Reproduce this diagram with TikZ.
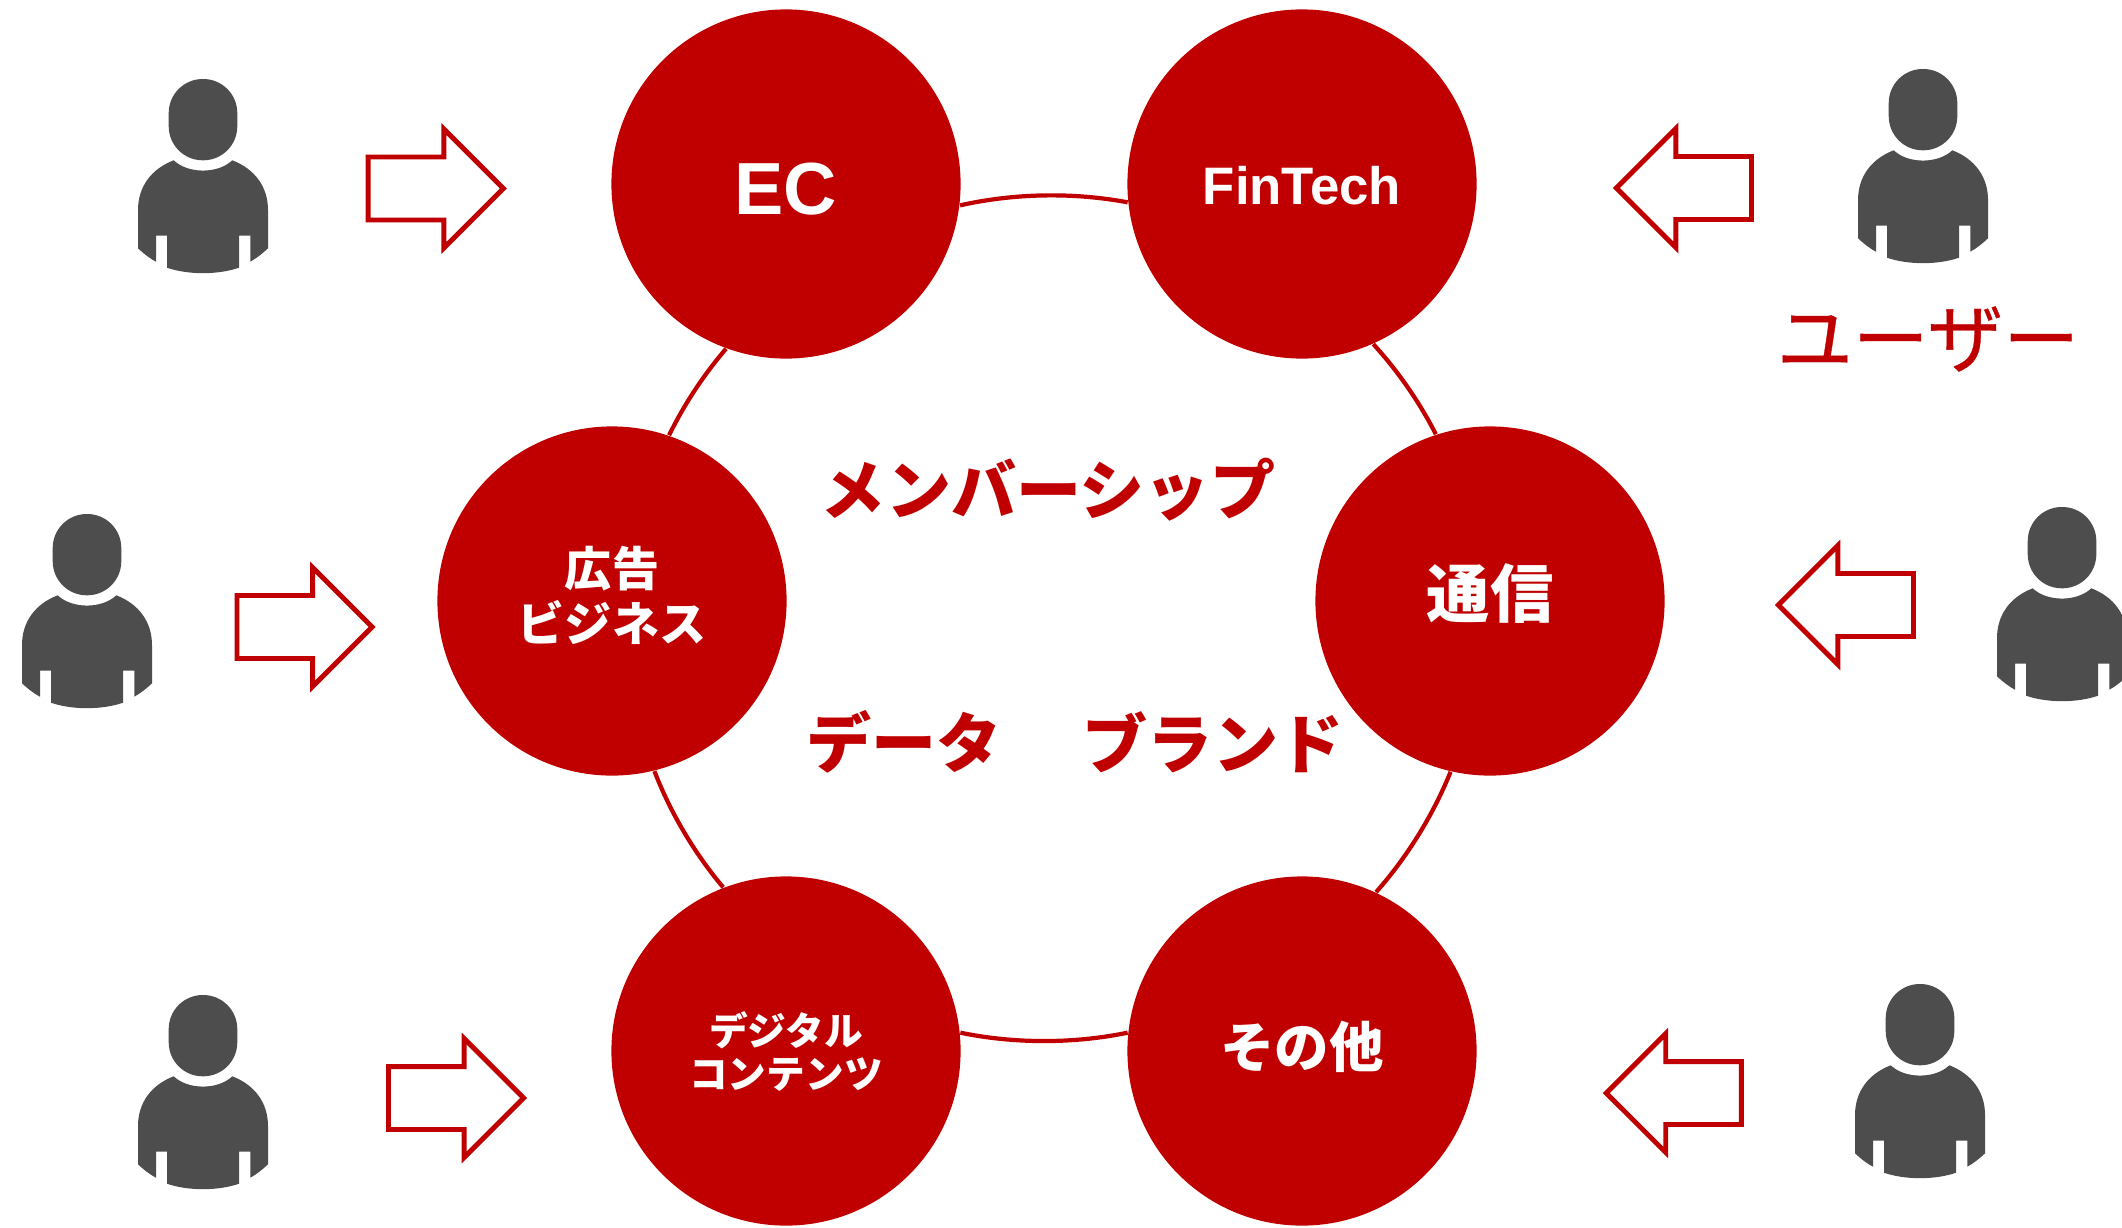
\documentclass[tikz,border=0pt]{standalone}
\usepackage{fontspec}
\setmainfont{Liberation Sans}
\newfontfamily\jpfont{Noto Sans CJK JP}
\newfontfamily\jpthick[FakeBold=0.5]{Noto Sans CJK JP}
\usetikzlibrary{shapes.arrows}

\definecolor{brandred}{HTML}{C00000}
\definecolor{persongray}{HTML}{4D4D4D}

\tikzset{
	member/.style={circle, fill=brandred, minimum size=3.49cm, inner sep=0pt, text=white, align=center},
	ringline/.style={draw=brandred, line width=1.2pt, looseness=0.85},
	flow/.style={draw=brandred, line width=1.4pt, single arrow, minimum width=1.14cm, minimum height=1.35cm,
		single arrow head extend=0.28cm, single arrow head indent=0pt, inner xsep=0pt, inner ysep=0.29cm, outer sep=0pt},
	flowin/.style={flow},
	flowout/.style={flow, shape border rotate=180},
	tag/.style={text=brandred, inner sep=0pt, font=\jpfont\bfseries\fontsize{18.5}{22}\selectfont},
	pics/person/.style={code={
		\fill[persongray, rounded corners=0.34cm] (-34.3,0) rectangle (34.3,81.3);
		\fill[persongray] (-29.3,81.3) .. controls (-15,95) and (15,95) .. (29.3,81.3)
			.. controls (52,90) and (65,108) .. (65,131) -- (65,169.3)
			.. controls (60,174) and (54,179) .. (47.3,182.7) -- (47.3,156.7) -- (36,156.7) -- (36,188.7)
			.. controls (15,196) and (-15,196) .. (-36,188.7) -- (-36,156.7) -- (-47,156.7) -- (-47,182.7)
			.. controls (-54,179) and (-60,174) .. (-65,169.3) -- (-65,131)
			.. controls (-65,108) and (-52,90) .. (-29.3,81.3) -- cycle;
	}}
}

\begin{document}
\begin{tikzpicture}[x=0.01cm, y=-0.01cm]
	\path[use as bounding box, clip] (0,0) rectangle (2122,1227);

	\node[member, text height=17.4pt, text depth=0pt, font=\bfseries\fontsize{21}{25}\selectfont] (ec) at (786,184) {EC};
	\node[member, text height=11.8pt, text depth=0pt, font=\bfseries\fontsize{15}{18}\selectfont] (fintech) at (1302,184) {FinTech};
	\node[member, text depth=6.2pt, font=\jpfont\bfseries\fontsize{18}{22}\selectfont] (telecom) at (1490,601) {通信};
	\node[member, text depth=3.8pt, font=\jpfont\bfseries\fontsize{15.5}{18}\selectfont] (others) at (1302,1051) {その他};
	\node[member, font=\jpfont\bfseries\fontsize{11}{12.2}\selectfont] (content) at (786,1051) {デジタル\\コンテンツ};
	\node[member, text depth=4.3pt, font=\jpfont\bfseries\fontsize{13.4}{15.7}\selectfont] (ads) at (612,601) {広告\\ビジネス};

	\draw[ringline] (ec.-7.3) to[bend left=11.6] (fintech.186.4);
	\draw[ringline] (fintech.-66) to[bend left=7.7] (telecom.108.7);
	\draw[ringline] (telecom.-103.4) to[bend left=9.7] (others.65);
	\draw[ringline] (others.174) to[bend left=11.6] (content.6.8);
	\draw[ringline] (content.111) to[bend left=9.5] (ads.-76.6);
	\draw[ringline] (ads.71.8) to[bend left=7.3] (ec.250);

	\node[tag] (membership) at (1048,490) {メンバーシップ};
	\node[tag] (data) at (904,742) {データ};
	\node[tag] (brand) at (1213,742) {ブランド};
	\node[text=brandred, inner sep=0pt, font=\jpthick\fontsize{21.6}{25}\selectfont] (user) at (1928,339) {ユーザー};

	\node[flowin] (arrowa) at (420,188.5) {};
	\node[flowin] (arrowb) at (288.8,627) {};
	\node[flowin] (arrowc) at (440.3,1098) {};
	\node[flowout] (arrowd) at (1699.7,188) {};
	\node[flowout] (arrowe) at (1861.7,605) {};
	\node[flowout] (arrowf) at (1689.5,1093) {};

	\pic (usera) at (203,79) {person};
	\pic (userb) at (87,514) {person};
	\pic (userc) at (203,995) {person};
	\pic (userd) at (1923,69) {person};
	\pic (usere) at (2062,507) {person};
	\pic (userf) at (1920,984) {person};
\end{tikzpicture}
\end{document}
